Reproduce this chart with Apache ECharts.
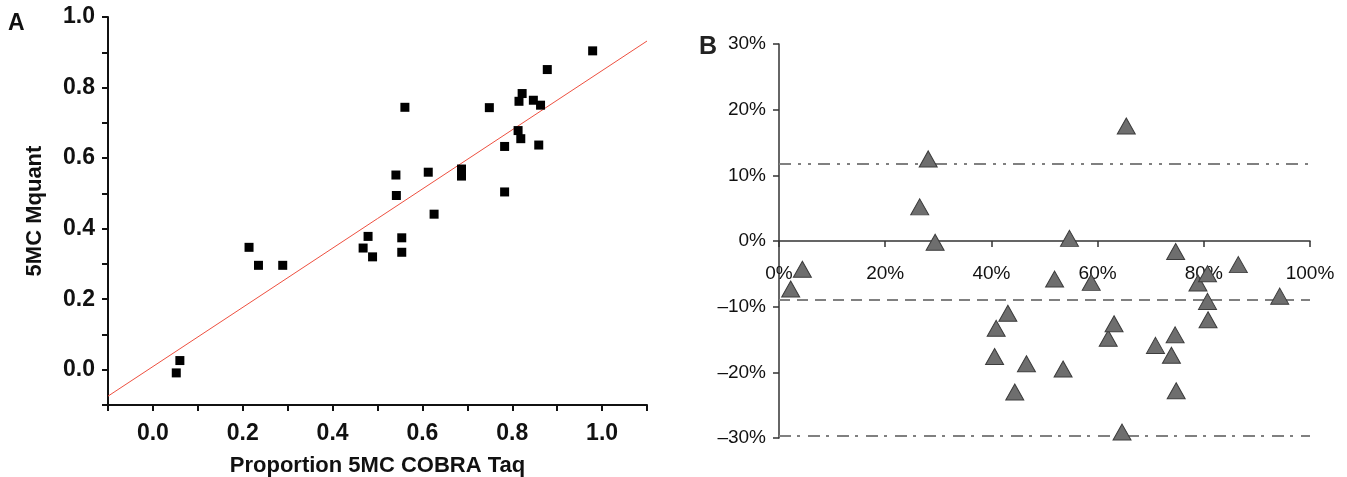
<!DOCTYPE html>
<html>
<head>
<meta charset="utf-8">
<script src="https://cdn.jsdelivr.net/npm/echarts@6/dist/echarts.min.js"></script>
<style>
html,body{margin:0;padding:0;background:#fff;}
#chart{width:1347px;height:477px;}
</style>
</head>
<body>
<div id="chart"></div>
<script>
// Panel A: Proportion 5MC COBRA Taq (x) vs 5MC Mquant (y)
const cobraTaq = [0.052,0.060,0.214,0.235,0.289,0.468,0.479,0.489,0.541,0.542,0.554,0.554,0.561,0.613,0.626,0.687,0.687,0.749,0.783,0.783,0.813,0.815,0.819,0.822,0.847,0.859,0.863,0.878,0.979];
const mquant   = [-0.009,0.026,0.347,0.296,0.296,0.345,0.378,0.320,0.552,0.494,0.374,0.333,0.744,0.560,0.441,0.569,0.549,0.743,0.633,0.504,0.678,0.761,0.655,0.783,0.764,0.637,0.750,0.851,0.904];
// regression line
const fitIntercept = 0.009;
const fitSlope = 0.839;
const fitRangeX = [-0.1, 1.1];

// Panel B: mean (x, %) vs difference (y, %)
const meanPct = [2.2,4.4,26.5,28.1,29.4,40.6,40.9,43.1,44.4,46.6,51.9,53.5,54.7,58.8,62.0,63.1,64.6,65.4,70.9,73.9,74.7,74.6,74.8,78.9,80.7,80.7,80.8,86.5,94.3];
const diffPct = [-7.3,-4.3,5.2,12.5,-0.2,-17.6,-13.3,-11.0,-23.0,-18.7,-5.8,-19.5,0.4,-6.3,-14.8,-12.6,-29.1,17.5,-15.9,-17.4,-1.6,-14.3,-22.8,-6.4,-5.0,-9.2,-12.0,-3.6,-8.4];
const meanDiff = -8.9;
const upperLimit = 11.7;
const lowerLimit = -29.6;

const fontA = "'Liberation Sans', Arial, sans-serif";
const chart = echarts.init(document.getElementById('chart'), null, {renderer:'canvas'});

const scatterA = cobraTaq.map((x,i)=>[x, mquant[i]]);
const fitLine = fitRangeX.map(x=>[x, fitIntercept + fitSlope*x]);
const scatterB = meanPct.map((x,i)=>[x, diffPct[i]]);

function evenTenth(v){
  const k = Math.round(v*10);
  return (k % 2 === 0) ? (k/10).toFixed(1) : '';
}
function pct(v){
  if (v < 0) return '\u2013' + Math.abs(v) + '%';
  return v + '%';
}

const gridB = {left:779, right:37, top:44, bottom:39, outerBoundsMode:'none', containLabel:false};
const gridBHeight = 477 - gridB.top - gridB.bottom;

chart.setOption({
  animation:false,
  backgroundColor:'#fff',
  graphic:[
    {type:'text', left:8, top:12, style:{text:'A', font:"bold 23px 'Liberation Sans', Arial, sans-serif", fill:'#111'}},
    {type:'text', left:699, top:35, style:{text:'B', font:"bold 25px 'Liberation Sans', Arial, sans-serif", fill:'#222'}}
  ],
  grid:[
    {left:108, right:700, top:17, bottom:72, outerBoundsMode:'none', containLabel:false},
    gridB
  ],
  xAxis:[
    {
      gridIndex:0, type:'value', min:-0.1, max:1.1, interval:0.1,
      name:'Proportion 5MC COBRA Taq', nameLocation:'middle', nameGap:50,
      nameTextStyle:{fontFamily:fontA, fontWeight:'bold', fontSize:22, color:'#111'},
      axisLine:{show:true, onZero:false, lineStyle:{color:'#111', width:2}},
      axisTick:{show:true, inside:false, length:6, lineStyle:{color:'#111', width:2}},
      axisLabel:{formatter:evenTenth, margin:17, fontFamily:fontA, fontWeight:'bold', fontSize:23, color:'#111'},
      splitLine:{show:false}
    },
    {
      gridIndex:1, type:'value', min:0, max:100, interval:20,
      position:'bottom', offset:-gridBHeight/2,
      axisLine:{show:true, onZero:false, lineStyle:{color:'#333', width:1.5}},
      axisTick:{show:true, inside:false, length:6, lineStyle:{color:'#333', width:1.5}},
      axisLabel:{formatter:pct, margin:23, fontFamily:fontA, fontSize:19, color:'#111'},
      splitLine:{show:false}, z:1
    }
  ],
  yAxis:[
    {
      gridIndex:0, type:'value', min:-0.1, max:1.0, interval:0.1,
      name:'5MC Mquant', nameLocation:'middle', nameGap:62,
      nameTextStyle:{fontFamily:fontA, fontWeight:'bold', fontSize:22, color:'#111'},
      axisLine:{show:true, onZero:false, lineStyle:{color:'#111', width:2}},
      axisTick:{show:true, inside:false, length:6, lineStyle:{color:'#111', width:2}},
      axisLabel:{formatter:evenTenth, margin:13, fontFamily:fontA, fontWeight:'bold', fontSize:23, color:'#111'},
      splitLine:{show:false}
    },
    {
      gridIndex:1, type:'value', min:-30, max:30, interval:10,
      axisLine:{show:true, onZero:false, lineStyle:{color:'#333', width:1.5}},
      axisTick:{show:true, inside:false, length:6, lineStyle:{color:'#333', width:1.5}},
      axisLabel:{formatter:pct, margin:13, fontFamily:fontA, fontSize:19, color:'#111'},
      splitLine:{show:false}
    }
  ],
  series:[
    {
      type:'line', xAxisIndex:0, yAxisIndex:0, data:fitLine, symbol:'none',
      lineStyle:{color:'#ee5040', width:1}, silent:true, z:2
    },
    {
      type:'scatter', xAxisIndex:0, yAxisIndex:0, data:scatterA,
      symbol:'rect', symbolSize:9, itemStyle:{color:'#000', opacity:1}, z:3
    },
    {
      type:'scatter', xAxisIndex:1, yAxisIndex:1, data:scatterB,
      symbol:'triangle', symbolSize:[18,16],
      itemStyle:{color:'#6e6e6e', borderColor:'#3c3c3c', borderWidth:1, opacity:1}, z:3,
      markLine:{
        silent:true, symbol:'none', label:{show:false}, z:1,
        data:[
          {yAxis:upperLimit, lineStyle:{color:'#808080', width:2, type:[12,7,3,7,3,7], opacity:1}},
          {yAxis:meanDiff, lineStyle:{color:'#808080', width:2, type:[11,7], opacity:1}},
          {yAxis:lowerLimit, lineStyle:{color:'#808080', width:2, type:[12,6,3,8], opacity:1}}
        ]
      }
    }
  ]
});
</script>
</body>
</html>
